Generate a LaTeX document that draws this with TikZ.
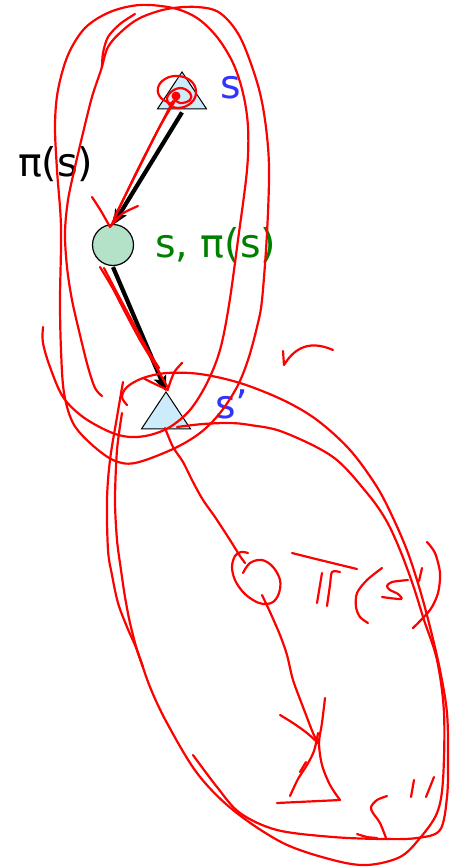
\documentclass[tikz,border=0pt]{standalone}
\usepackage{fontspec}
\setmainfont{DejaVu Sans}
\usetikzlibrary{arrows.meta,shapes.geometric}
\definecolor{trifill}{RGB}{204,236,252}
\definecolor{nodefill}{RGB}{180,226,200}
\definecolor{lblblue}{RGB}{51,51,255}
\definecolor{lblgreen}{RGB}{0,128,0}
\definecolor{inkred}{RGB}{255,0,0}
\tikzset{
  statetri/.style={isosceles triangle, isosceles triangle apex angle=67, isosceles triangle stretches,
    shape border rotate=90, draw=black, line width=1pt, fill=trifill, inner sep=0pt,
    minimum width=49pt, minimum height=37pt},
  statecirc/.style={circle, draw=black, line width=1.2pt, fill=nodefill, inner sep=0pt, minimum size=41pt},
  lbl/.style={inner sep=0pt, anchor=base west, font=\fontsize{39.5}{42}\selectfont},
  blackarrow/.style={draw=black, line width=4.2pt, -{Stealth[length=15pt,width=13pt,inset=3pt]}},
  redline/.style={draw=inkred, line width=2.2pt, line cap=round, line join=round},
}
\begin{document}
\begin{tikzpicture}[x=1pt,y=-1pt]
\useasboundingbox (0,0) rectangle (459,867);
\fill[white] (0,0) rectangle (459,867);

% slide content
\node[statetri, anchor=apex] (s) at (182,71) {};
\node[statecirc] (q) at (113,245) {};
\node[statetri, anchor=apex] (sp) at (166,391) {};
\node[lbl, text=lblblue] (slbl) at (220,98) {s};
\node[lbl, text=black] (pilbl) at (18,176) {π(s)};
\node[lbl, text=lblgreen] (qlbl) at (155,257) {s, π(s)};
\node[lbl, text=lblblue] (splbl) at (215,418) {s’};
\draw[blackarrow] ([yshift=-3pt]s.lower side) -- ([yshift=-1pt]q.north);
\draw[blackarrow] ([yshift=-1pt]q.south) -- (sp.apex);

% handwritten red ink
\draw[redline] plot[smooth, tension=0.55] coordinates {(43,327) (43,343) (50,367) (63,397) (83,417) (110,432) (130,437) (150,435) (170,427) (190,410) (207,383) (220,350) (229,305) (238,240) (247,170) (248,127) (243,93) (233,63) (217,37) (197,18) (173,8) (140,5) (110,12) (85,28) (68,55) (58,90) (55,125) (57,170) (61,227) (60,300) (61,350) (64,393) (73,423) (90,443) (113,460) (135,463) (173,449) (200,433) (220,413) (237,387) (248,360) (257,327) (262,300) (267,233) (269,167) (265,120) (257,82) (240,37) (220,13) (197,7) (167,9) (140,18) (122,31) (108,47) (101,70) (92,97) (83,133) (75,167) (68,200) (65,233) (67,267) (72,300) (80,335) (88,367) (95,388) (102,396)};
\draw[redline] plot[smooth] coordinates {(135,14) (120,24) (108,37) (103,53) (102,67)};
% spiral on s
\draw[redline] plot[smooth, tension=0.7] coordinates {(172,104) (161,98) (158,88) (165,79) (178,76) (191,81) (196,92) (191,103) (178,108) (168,103) (169,94) (180,88) (190,93) (190,100) (180,103) (174,98)};
\fill[inkred] (176,96) circle (4.5pt);
% red arrow s -> q
\draw[redline] plot[smooth] coordinates {(173,101) (158,130) (140,165) (125,196) (111,226)};
\draw[redline] plot[smooth] coordinates {(176,99) (159,128) (143,160) (128,190) (114,218)};
\draw[redline] plot[smooth] coordinates {(92,197) (101,211) (110,227)};
\draw[redline] plot[smooth] coordinates {(110,227) (122,214) (138,206)};
% red arrow q -> s'
\draw[redline] plot[smooth] coordinates {(100,267) (112,287) (125,312) (140,340) (155,365) (168,388)};
\draw[redline] plot[smooth] coordinates {(104,268) (116,291) (131,319) (146,347) (159,368)};
\draw[redline] plot[smooth] coordinates {(182,363) (175,371) (171,380) (168,389)};
\draw[redline] plot[smooth] coordinates {(143,378) (155,384) (168,390)};
% small mark
\draw[redline] (283,351) -- (284,365) .. controls (292,352) and (306,338) .. (333,350);
% lower loops
\draw[redline] plot[smooth, tension=0.55] coordinates {(127,405) (122,397) (127,387) (143,378) (167,373) (200,374) (240,383) (283,400) (317,420) (350,450) (377,487) (394,520) (408,553) (420,590) (430,627) (440,670) (447,713) (448,760) (447,797) (440,830) (417,838) (383,839) (333,837) (277,830) (240,813) (217,787) (193,755)};
\draw[redline] plot[smooth, tension=0.55] coordinates {(177,427) (203,424) (230,423) (250,425) (283,432) (333,457) (367,493) (386,520) (400,550) (413,585) (424,620) (437,660) (444,713) (443,780) (437,813) (420,838) (400,857) (367,865) (333,860) (283,843) (233,810) (197,773) (167,723) (150,687) (137,650) (127,627) (118,603) (112,575) (108,550) (107,500) (110,460) (117,417) (123,382)};
\draw[redline] plot[smooth] coordinates {(122,413) (117,450) (115,500) (117,540) (121,570) (125,597) (130,623) (137,650) (143,667)};
% s' -> pi(s') state
\draw[redline] plot[smooth] coordinates {(165,428) (173,447) (183,462) (193,482) (203,500) (215,517) (230,540) (240,556) (245,563)};
\draw[redline] plot[smooth, tension=0.6] coordinates {(243,573) (250,563) (262,560) (273,567) (280,580) (279,593) (273,602) (263,604) (253,600) (243,592) (235,580) (232,567) (235,556) (241,552) (248,553)};
\draw[redline] plot[smooth] coordinates {(262,595) (270,612) (280,635) (287,655) (293,680) (303,707) (313,733) (318,743)};
\draw[redline] plot[smooth] coordinates {(280,715) (293,723) (307,733) (318,743)};
% hand triangle
\draw[redline] plot[smooth] coordinates {(325,698) (322,723) (319,743) (322,765) (330,785) (340,800)} -- (277,803);
\draw[redline] plot[smooth] coordinates {(290,796) (298,779) (307,765) (314,751) (318,733)};
\draw[redline] (306,762) -- (300,772);
% pi(s')
\draw[redline] plot[smooth] coordinates {(292,553) (320,560) (357,569)};
\draw[redline] (322,573) -- (317,603);
\draw[redline] plot[smooth] coordinates {(340,572) (332,572) (330,585) (327,606)};
\draw[redline] plot[smooth] coordinates {(382,568) (367,580) (357,593) (356,607) (360,617) (368,623)};
\draw[redline] plot[smooth, tension=0.5] coordinates {(408,580) (392,582) (387,586) (390,590) (398,594) (401,599) (382,597)};
\draw[redline] (422,568) -- (419,581);
\draw[redline] plot[smooth] coordinates {(427,542) (435,553) (440,573) (438,593) (430,610) (413,628)};
% s''
\draw[redline] plot[smooth] coordinates {(387,796) (377,800) (371,807) (373,813) (380,823) (386,838)};
\draw[redline] plot[smooth] coordinates {(357,834) (367,837) (377,838)};
\draw[redline] (414,780) -- (411,797);
\draw[redline] (434,777) -- (426,797);
\end{tikzpicture}
\end{document}
